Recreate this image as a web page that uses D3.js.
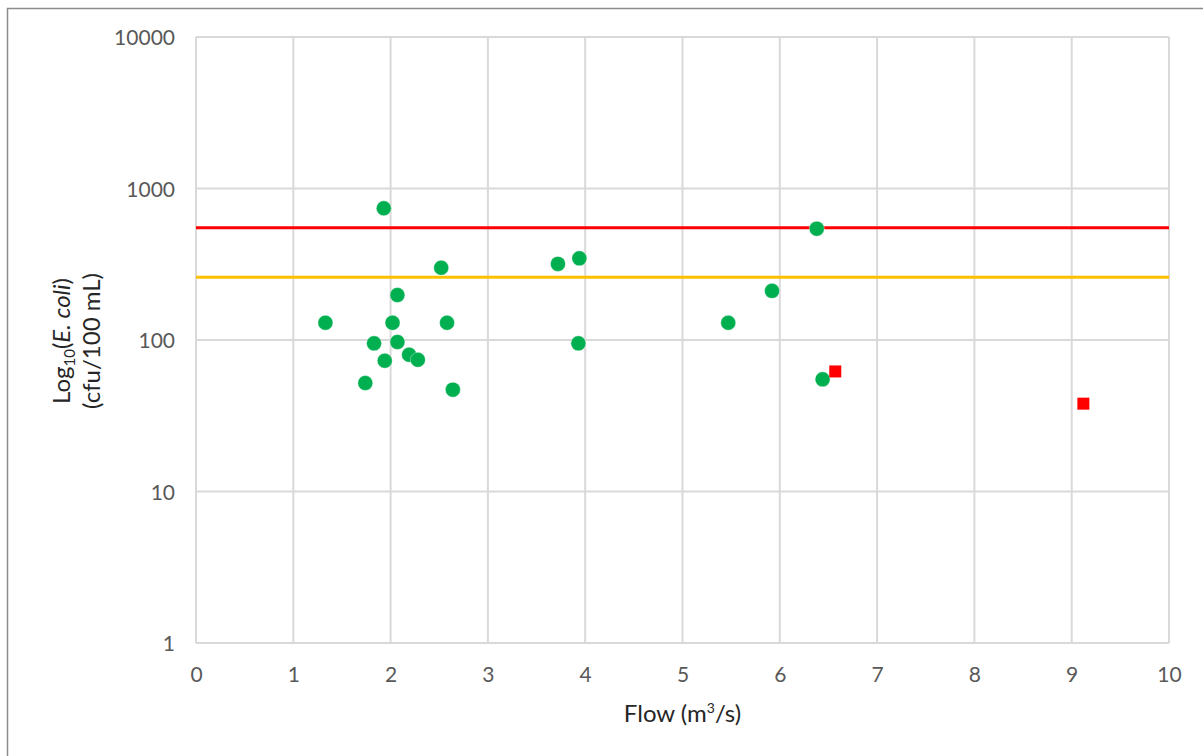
<!DOCTYPE html>
<html>
<head>
<meta charset="utf-8">
<script src="https://cdn.jsdelivr.net/npm/d3@7/dist/d3.min.js"></script>
<style>
  html, body { margin: 0; padding: 0; background: #fff; }
  svg { display: block; font-family: Lato, "Open Sans", sans-serif; }
</style>
</head>
<body>
<svg id="chart" width="1203" height="756"></svg>
<script>
// ---- Data ----
const greenFlow  = [1.93, 2.52, 2.07, 1.33, 2.02, 2.58, 1.83, 2.07, 2.19, 2.28, 1.94, 1.74, 2.64, 3.72, 3.94, 3.93, 6.38, 5.92, 5.47, 6.44];
const greenEcoli = [740, 300, 198, 130, 130, 130, 95, 97, 80, 74, 73, 52, 47, 318, 346, 95, 543, 211, 130, 55];
const redFlow    = [6.57, 9.12];
const redEcoli   = [62, 38];
const thresholdValues = [550, 260];
const thresholdColors = ["#ff0000", "#ffc000"];
const xTicks = [0, 1, 2, 3, 4, 5, 6, 7, 8, 9, 10];
const yTicks = [1, 10, 100, 1000, 10000];

const svg = d3.select("#chart");
const L = 196, R = 1169, T = 37, B = 643;

const x = d3.scaleLinear().domain([0, 10]).range([L, R]);
const y = d3.scaleLog().domain([1, 10000]).range([B, T]);

// outer chart border (extends beyond the picture at right/bottom)
svg.append("rect")
  .attr("x", 7.5).attr("y", 8.5)
  .attr("width", 1300).attr("height", 900)
  .attr("fill", "none").attr("stroke", "#8c8c8c").attr("stroke-width", 1.5);

// gridlines
const grid = svg.append("g");
grid.selectAll("line.v").data(xTicks).join("line")
  .attr("x1", d => x(d)).attr("x2", d => x(d))
  .attr("y1", T).attr("y2", B)
  .attr("stroke", "#d9d9d9").attr("stroke-width", 2);
grid.selectAll("line.h").data(yTicks).join("line")
  .attr("x1", L).attr("x2", R)
  .attr("y1", d => y(d)).attr("y2", d => y(d))
  .attr("stroke", "#d9d9d9").attr("stroke-width", 2);

// axes (labels only, via d3 axes)
const xAxis = d3.axisBottom(x).tickValues(xTicks).tickSize(0).tickPadding(0).tickFormat(d3.format("d"));
const gx = svg.append("g").attr("transform", `translate(0,${B})`).call(xAxis);
gx.select(".domain").remove();
gx.selectAll("text").attr("dy", null).attr("y", 39)
  .attr("font-size", 21).attr("fill", "#595959").attr("font-family", "Lato, sans-serif");

const yAxis = d3.axisLeft(y).tickValues(yTicks).tickSize(0).tickPadding(0).tickFormat(d3.format("d"));
const gy = svg.append("g").attr("transform", `translate(${L - 21},0)`).call(yAxis);
gy.select(".domain").remove();
gy.selectAll("text").attr("dy", "0.36em")
  .attr("font-size", 21).attr("fill", "#595959").attr("font-family", "Lato, sans-serif");

// threshold lines
svg.append("g").selectAll("line").data(thresholdValues).join("line")
  .attr("x1", L).attr("x2", R)
  .attr("y1", d => y(d)).attr("y2", d => y(d))
  .attr("stroke", (d, i) => thresholdColors[i]).attr("stroke-width", 3);

// green circles
svg.append("g").selectAll("circle").data(greenFlow).join("circle")
  .attr("cx", d => x(d))
  .attr("cy", (d, i) => y(greenEcoli[i]))
  .attr("r", 7.5)
  .attr("fill", "#00b050")
  .attr("stroke", "#ffffff").attr("stroke-width", 0.6).attr("stroke-opacity", 0.6);

// red squares
const sq = 12;
svg.append("g").selectAll("rect").data(redFlow).join("rect")
  .attr("x", d => x(d) - sq / 2)
  .attr("y", (d, i) => y(redEcoli[i]) - sq / 2)
  .attr("width", sq).attr("height", sq)
  .attr("fill", "#ff0000");

// x axis title
const xt = svg.append("text")
  .attr("x", (L + R) / 2).attr("y", 722)
  .attr("text-anchor", "middle")
  .attr("font-size", 24).attr("fill", "#262626");
xt.append("tspan").text("Flow (m");
xt.append("tspan").attr("font-size", 14).attr("dy", -9).text("3");
xt.append("tspan").attr("dy", 9).text("/s)");

// y axis title (two lines, rotated)
const yc = 341;
const yt = svg.append("text")
  .attr("transform", `translate(70,${yc}) rotate(-90)`)
  .attr("text-anchor", "middle")
  .attr("font-size", 24).attr("fill", "#262626");
yt.append("tspan").text("Log");
yt.append("tspan").attr("font-size", 15).attr("dy", 5).text("10");
yt.append("tspan").attr("dy", -5).text("(");
yt.append("tspan").attr("font-style", "italic").text("E. coli");
yt.append("tspan").text(")");

svg.append("text")
  .attr("transform", `translate(100,${yc}) rotate(-90)`)
  .attr("text-anchor", "middle")
  .attr("font-size", 24).attr("fill", "#262626")
  .text("(cfu/100 mL)");
</script>
</body>
</html>
